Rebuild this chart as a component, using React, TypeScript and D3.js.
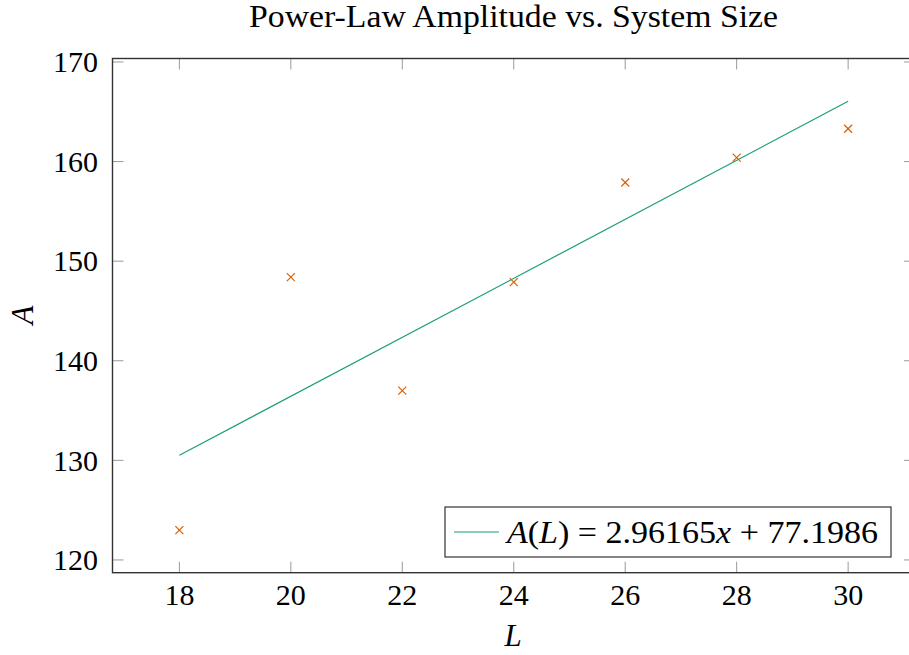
import React from "react";
import * as d3 from "d3";

// observed points
const sizes = [18, 20, 22, 24, 26, 28, 30];
const amplitudes = [123.0, 148.4, 137.0, 147.9, 157.9, 160.4, 163.3];

// linear fit shown in the legend
const slope = 2.96165;
const intercept = 77.1986;
const fitRange = [18, 30];

const xTicks = [18, 20, 22, 24, 26, 28, 30];
const yTicks = [120, 130, 140, 150, 160, 170];

const width = 909;
const height = 655;
const left = 112.5;
const top = 58.5;
const bottom = 572.7;
const right = 915;

const orange = "#d95f02";
const green = "#1b9e77";
const frame = "#333333";
const serif = { fontFamily: "'Liberation Serif', 'DejaVu Serif', serif" };

const App = () => {
  const x = d3.scaleLinear().domain([16.8, 31.2]).range([left, right]);
  const y = d3.scaleLinear().domain([118.72, 170.35]).range([bottom, top]);

  const fitLine = d3
    .line<number>()
    .x((d) => x(d))
    .y((d) => y(slope * d + intercept))(fitRange);

  const tick = 11;

  return (
    <svg
      width={width}
      height={height}
      style={{ position: "absolute", left: 0, top: 0, background: "white" }}
    >
      <text
        x={513.5}
        y={27}
        textAnchor="middle"
        fontSize={31}
        textLength={529}
        lengthAdjust="spacingAndGlyphs"
        style={serif}
      >
        Power-Law Amplitude vs. System Size
      </text>

      {/* ticks, inward on all four sides */}
      <g stroke="#9a9a9a" strokeWidth={1}>
        {xTicks.map((t) => (
          <g key={"x" + t}>
            <line x1={x(t)} x2={x(t)} y1={bottom} y2={bottom - tick} />
            <line x1={x(t)} x2={x(t)} y1={top} y2={top + tick} />
          </g>
        ))}
        {yTicks.map((t) => (
          <g key={"y" + t}>
            <line x1={left} x2={left + tick} y1={y(t)} y2={y(t)} />
            <line x1={right} x2={right - tick} y1={y(t)} y2={y(t)} />
          </g>
        ))}
      </g>

      <rect
        x={left}
        y={top}
        width={right - left}
        height={bottom - top}
        fill="none"
        stroke={frame}
        strokeWidth={1.4}
      />

      {xTicks.map((t) => (
        <text key={"xl" + t} x={x(t)} y={605} textAnchor="middle" fontSize={30} style={serif}>
          {t}
        </text>
      ))}
      {yTicks.map((t) => (
        <text
          key={"yl" + t}
          x={98}
          y={y(t)}
          dy="0.34em"
          textAnchor="end"
          fontSize={30}
          style={serif}
        >
          {t}
        </text>
      ))}

      <text x={513} y={646} textAnchor="middle" fontSize={31} fontStyle="italic" style={serif}>
        L
      </text>
      <text
        transform="translate(33,315) rotate(-90)"
        textAnchor="middle"
        fontSize={31}
        fontStyle="italic"
        style={serif}
      >
        A
      </text>

      <path d={fitLine ?? ""} fill="none" stroke={green} strokeWidth={1.2} />

      {sizes.map((s, i) => {
        const cx = x(s);
        const cy = y(amplitudes[i]);
        const r = 4;
        return (
          <g key={"m" + s} stroke={orange} strokeWidth={1.2}>
            <line x1={cx - r} y1={cy - r} x2={cx + r} y2={cy + r} />
            <line x1={cx - r} y1={cy + r} x2={cx + r} y2={cy - r} />
          </g>
        );
      })}

      <g>
        <rect x={445} y={507} width={446} height={50} fill="white" stroke={frame} strokeWidth={1.2} />
        <line x1={454} x2={499} y1={532} y2={532} stroke={green} strokeWidth={1.2} />
        <text
          x={507}
          y={543}
          fontSize={31}
          textLength={371}
          lengthAdjust="spacingAndGlyphs"
          style={serif}
        >
          <tspan fontStyle="italic">A</tspan>(<tspan fontStyle="italic">L</tspan>) = 2.96165<tspan fontStyle="italic">x</tspan> + 77.1986
        </text>
      </g>
    </svg>
  );
};

export default App;
